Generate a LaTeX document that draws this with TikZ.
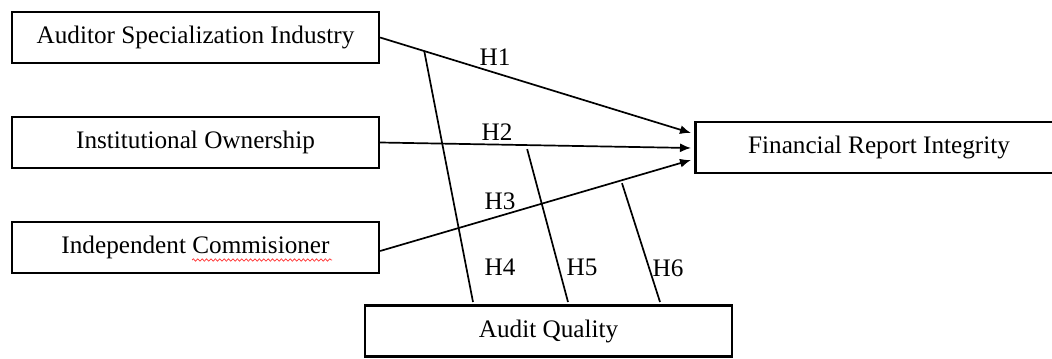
\documentclass[tikz,border=0pt]{standalone}
\usepackage{fontspec}
\setmainfont{Liberation Serif}
\usepackage{tikz}
\usetikzlibrary{shapes,arrows,arrows.meta}
\usetikzlibrary{positioning}
\usetikzlibrary{decorations.pathmorphing}
\tikzstyle{var} = [draw, rectangle, line width=1.1pt, minimum width=183.5pt,
minimum height=25.5pt, inner sep=0pt, font=\fontsize{12.6}{14}\selectfont]
\tikzstyle{line} = [draw, -{Latex[length=5.5pt,width=4.5pt]}, line width=0.85pt]
\tikzstyle{hyp} = [inner sep=0pt, font=\fontsize{12.6}{14}\selectfont]
\begin{document}
\begin{tikzpicture}[x=0.5pt, y=-0.5pt]
    \useasboundingbox (0,0) rectangle (1052,358);
    \node[var] (asi) at (195.5,37.5) {Auditor Specialization Industry};
    \node[var] (io) at (195.5,142.5) {Institutional Ownership};
    \node[var] (ic) at (195.5,247.5) {Independent Commisioner};
    \node[var] (fri) at (879,147.5) {Financial Report Integrity};
    \node[var] (aq) at (548.5,331) {Audit Quality};
    %% arrow tips at the target box
    \coordinate (t1) at (691,133);
    \coordinate (t2) at (691,148);
    \coordinate (t3) at (691,160);
    %% Direct effects
    \path [line] (asi.east) -- (t1) coordinate[pos=0.142] (m4);
    \path [line] (io.east) -- (t2) coordinate[pos=0.473] (m5);
    \path [line] ([yshift=-1.75pt]ic.east) -- (t3) coordinate[pos=0.778] (m6);
    %% Moderation
    \coordinate (b4) at (473,302);
    \coordinate (b5) at (568,302);
    \coordinate (b6) at (660,302);
    \draw[line width=0.85pt] (m4) -- (b4);
    \draw[line width=0.85pt] ([yshift=-2pt]m5) -- (b5);
    \draw[line width=0.85pt] ([yshift=-1.5pt]m6) -- (b6);
    %%
    \node[hyp] (h1) at (495,57) {H1};
    \node[hyp] (h2) at (497,132) {H2};
    \node[hyp] (h3) at (500,201) {H3};
    \node[hyp] (h4) at (500,267) {H4};
    \node[hyp] (h5) at (582,267) {H5};
    \node[hyp] (h6) at (668,268) {H6};
    %% spell-check mark
    \draw[red!80, line width=0.35pt, decorate,
      decoration={snake, amplitude=0.6pt, segment length=2.2pt}] (192,260) -- (332,260);
\end{tikzpicture}
\end{document}
